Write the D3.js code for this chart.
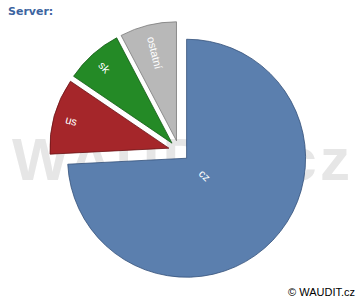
<!DOCTYPE html>
<html><head><meta charset="utf-8">
<script src="https://cdn.jsdelivr.net/npm/d3@7"></script>
<style>html,body{margin:0;padding:0;background:#fff;}svg{display:block;}</style>
</head><body>
<script>
const categories = ["cz", "us", "sk", "ostatní"];
const values = [74.2, 10.3, 7.8, 7.7];
const colors = ["#5b7fae", "#a5262a", "#248a26", "#b8b8b8"];
const strokes = ["#34507a", "#6a1416", "#145a16", "#7a7a7a"];
const title = "Server:";
const watermark = "WAUDIT.cz";
const copyright = "© WAUDIT.cz";

const W = 360, H = 300;
const cx = 179, cy = 151, r = 119, explode = 10.5;

const svg = d3.select("body").append("svg").attr("width", W).attr("height", H);

svg.append("text").attr("x", 181).attr("y", 180)
  .attr("text-anchor", "middle")
  .attr("font-family", "Liberation Sans, Arial, sans-serif")
  .attr("font-weight", "bold").attr("font-size", 60)
  .attr("textLength", 338).attr("lengthAdjust", "spacing")
  .attr("fill", "#e6e6e6").text(watermark);

svg.append("text").attr("x", 8).attr("y", 15)
  .attr("font-family", "DejaVu Sans, Verdana, sans-serif")
  .attr("font-weight", "bold").attr("font-size", 11)
  .attr("fill", "#3c64a0").text(title);

svg.append("text").attr("x", 355).attr("y", 296)
  .attr("text-anchor", "end")
  .attr("font-family", "Liberation Sans, Arial, sans-serif")
  .attr("font-size", 11).attr("fill", "#000").text(copyright);

const data = categories.map((c, i) => ({ name: c, value: values[i], i }));
const pie = d3.pie().value(d => d.value).sort(null).startAngle(0).endAngle(2 * Math.PI);
const arcs = pie(data);
const arc = d3.arc().innerRadius(0).outerRadius(r);

const g = svg.append("g").attr("transform", `translate(${cx},${cy})`);

arcs.forEach(a => {
  const mid = (a.startAngle + a.endAngle) / 2;
  const ox = Math.sin(mid) * explode, oy = -Math.cos(mid) * explode;
  const sg = g.append("g").attr("transform", `translate(${ox},${oy})`);
  sg.append("path").attr("d", arc(a))
    .attr("fill", colors[a.data.i]).attr("stroke", strokes[a.data.i])
    .attr("stroke-width", 0.8).attr("stroke-linejoin", "miter");

  // radial label
  let deg = Math.atan2(Math.cos(mid), -Math.sin(mid)) * 180 / Math.PI; // inward
  const big = (a.endAngle - a.startAngle) > Math.PI;
  const lr = big ? 0.21 * r : 0.9 * r;
  const lx = Math.sin(mid) * lr, ly = -Math.cos(mid) * lr;
  let anchor = big ? "middle" : "start";
  if (deg > 90 || deg < -90) { deg += 180; if (!big) anchor = "end"; }
  sg.append("text").attr("transform", `translate(${lx},${ly}) rotate(${deg})`)
    .attr("text-anchor", anchor).attr("dy", "0.35em")
    .attr("font-family", "Liberation Sans, Arial, sans-serif")
    .attr("font-size", 11).attr("fill", "#fff").text(a.data.name);
});
</script>
</body></html>
